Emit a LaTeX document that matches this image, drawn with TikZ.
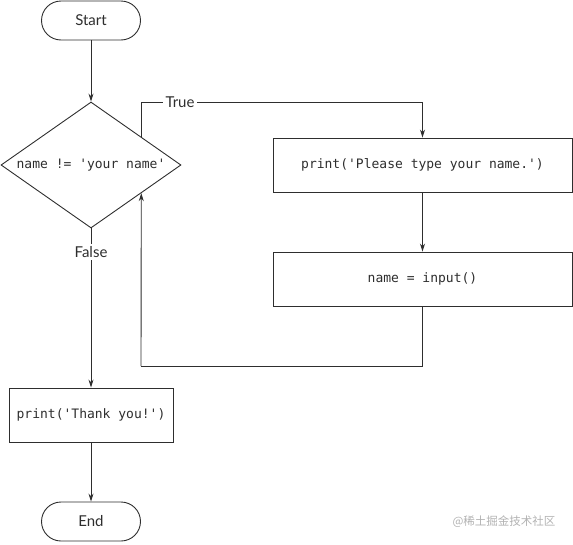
\documentclass[tikz,border=0pt]{standalone}
\usepackage{fontspec}
\setmainfont{Lato}
\newfontfamily\codefont{DejaVu Sans Mono}
\newfontfamily\cjk{Noto Sans CJK SC}
\usetikzlibrary{shapes.geometric,arrows.meta,calc}
\definecolor{inkgray}{HTML}{2E2E2E}

\begin{document}
\begin{tikzpicture}[x=1pt, y=-1pt, line width=0.9pt, color=inkgray,
    terminal/.style={draw, rectangle, rounded corners=19.5pt, minimum width=99pt, minimum height=39pt, font=\fontsize{15}{18}\selectfont},
    process/.style={draw, rectangle, minimum height=54pt, font=\codefont\fontsize{13}{15}\selectfont},
    decision/.style={draw, diamond, aspect=1.43, minimum width=180pt, minimum height=126pt, inner sep=0pt, font=\codefont\fontsize{13}{15}\selectfont},
    branch/.style={font=\fontsize{15}{18}\selectfont, inner sep=2pt},
    flow/.style={-{Stealth[length=8pt,width=5pt]}}]
    \useasboundingbox (0,0) rectangle (573,544);

    % Nodes
    \node [terminal] (start) at (91,20.5) {Start};
    \node [decision] (ask) at (91,165) {name != 'your name'};
    \node [process, minimum width=299pt] (please) at (422.5,165) {print('Please type your name.')};
    \node [process, minimum width=299pt] (input) at (422.5,279) {name = input()};
    \node [process, minimum width=164pt] (thanks) at (91,415) {print('Thank you!')};
    \node [terminal] (end) at (91,521.5) {End};

    % Branch labels
    \node [branch] (true) at (180,102) {True};
    \node [branch] (false) at (91,252) {False};

    % Points on the diamond and the loop corner
    \coordinate (dtrue) at ($(ask.north)!0.556!(ask.east)$);
    \coordinate (dback) at ($(ask.south)!0.556!(ask.east)$);
    \coordinate (loop) at (141,366);

    % Arrows and lines
    \draw [flow] (start.south) -- (ask.north);
    \draw (dtrue) |- (true.west);
    \draw [flow] (true.east) -| (please.north);
    \draw [flow] (please.south) -- (input.north);
    \draw (input.south) |- (loop);
    \draw [flow] (loop) -- (dback);
    \draw (ask.south) -- (false.north);
    \draw [flow] (false.south) -- (thanks.north);
    \draw [flow] (thanks.south) -- (end.north);

    % Watermark
    \node [font=\cjk\fontsize{11.5}{14}\selectfont, text=black!30] (mark) at (504,522) {@稀土掘金技术社区};
\end{tikzpicture}
\end{document}
